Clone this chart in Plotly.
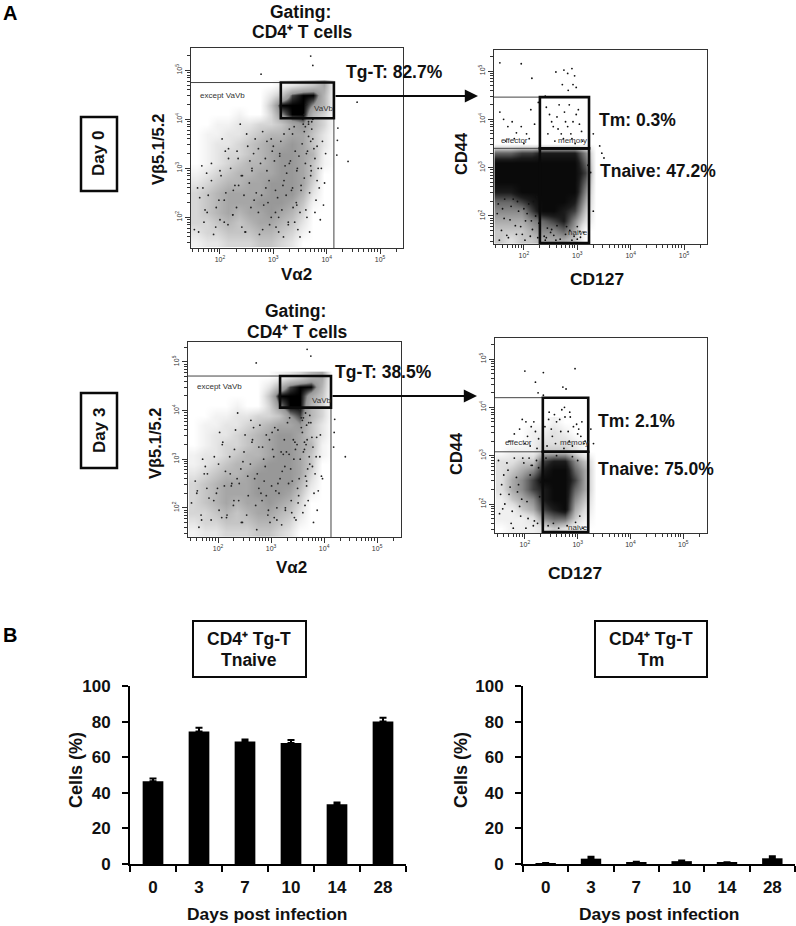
import numpy as np
import plotly.graph_objects as go

W, H = 796, 926
FONT = "Liberation Sans"

# Bar data
days = ["0", "3", "7", "10", "14", "28"]
tnaive = [46.5, 74.5, 68.8, 68.0, 33.5, 80.0]
tnaive_err = [1.5, 2.0, 1.2, 1.7, 1.0, 2.2]
tm = [0.4, 3.0, 1.0, 1.6, 0.8, 3.2]
tm_err = [0.2, 1.1, 0.3, 0.4, 0.2, 1.1]

# Flow density, one digit per cell (0 empty, 9 solid)
left_x = [1.55, 1.75, 1.95, 2.15, 2.35, 2.55, 2.75, 2.95, 3.15, 3.35, 3.55, 3.75, 3.95, 4.15]
left_y = [4.7, 4.5, 4.3, 4.1, 3.9, 3.7, 3.5, 3.3, 3.1, 2.9, 2.7, 2.5, 2.3, 2.1, 1.9, 1.7, 1.5]
day0_left = ["00000000123460", "00000002489950", "00000004999750", "00001003799530",
             "00112233467530", "01122345566420", "01223456676420", "01233456776510",
             "01234556776410", "12345566776400", "23455667776300", "34566667775200",
             "34566677764100", "34565667653000", "33454566542000", "23344455431000",
             "12233344320000"]
day3_left = ["00000000123560", "00000002589950", "00000004999640", "00001003799530",
             "00112233478530", "01122345667420", "01223456776420", "01233456776510",
             "12234556776410", "12345567776400", "23455677776300", "34566677775200",
             "34566677764100", "34565667653000", "33454566542000", "23344455431000",
             "12233344320000"]

right_x = [1.55, 1.75, 1.95, 2.15, 2.35, 2.55, 2.75, 2.95, 3.15, 3.35]
day0_right_y = [3.5, 3.3, 3.1, 2.9, 2.7, 2.5, 2.3, 2.1, 1.9, 1.7, 1.5]
day0_right = ["0000000000", "6677888850", "9999999960", "9999999970", "9999999960",
              "8899999950", "6678999840", "5557998730", "4445678520", "3334556400",
              "3233444300"]
day3_right_y = [3.7, 3.5, 3.3, 3.1, 2.9, 2.7, 2.5, 2.3, 2.1, 1.9, 1.7, 1.5]
day3_right = ["0000010000", "0001121000", "0001222100", "0111333200", "2233788530",
              "2345899640", "2457999740", "2457899640", "1345899530", "1134789420",
              "1112566310", "0111232100"]

# Separate dots (log10 units)
day0_left_dx = [3.7, 3.74, 2.77, 4.57, 4.21, 4.2, 4.19, 4.4, 1.62, 1.7, 1.84, 1.93, 2.04, 2.11, 2.2, 2.31, 2.38, 2.47,
                2.55, 2.63, 2.72, 2.8, 2.86, 2.93, 3.02, 3.08, 3.14, 3.19, 3.25, 3.3, 3.37, 3.41, 3.46, 3.52, 3.56, 3.6,
                3.63, 3.66, 3.7, 3.72, 3.76, 3.8, 3.84, 3.88, 3.92, 3.96, 2.1, 2.42, 2.66, 2.9, 3.05, 3.22, 3.34, 3.48,
                3.58, 3.68, 3.78, 3.55, 3.6, 3.66, 3.72, 2.0, 2.25, 2.52, 2.78, 2.98, 3.18, 3.4, 3.62, 3.82, 1.75, 2.15,
                2.6, 3.1, 3.44, 3.7, 3.3, 3.5, 2.85, 2.35,
                1.52, 1.58, 1.66, 1.72, 1.78, 1.88, 1.98, 2.02, 2.08, 2.16, 2.24, 2.28, 2.34, 2.41, 2.45, 2.5, 2.58, 2.6,
                2.68, 2.74, 2.76, 2.82, 2.88, 2.92, 2.96, 3.0, 3.04, 3.1, 3.12, 3.16, 3.2, 3.24, 3.28, 3.32, 3.36, 3.39,
                3.43, 3.45, 3.5, 3.54, 3.58, 3.61, 3.64, 3.68, 3.71, 3.74, 3.78, 3.82, 3.86, 3.9, 3.94, 3.98, 3.52, 3.44,
                3.36, 3.28, 3.2, 3.12, 3.04, 2.96, 2.88, 2.8, 2.72, 2.64, 2.56, 2.48, 2.4, 2.32, 2.24, 2.16, 2.08, 2.0,
                1.92, 1.84, 1.76, 1.68, 1.6, 3.58, 3.62, 3.7, 3.66, 3.74]
day0_left_dy = [5.29, 5.1, 4.92, 4.35, 3.82, 3.57, 3.27, 3.14, 2.4, 1.9, 2.75, 2.2, 3.6, 2.5, 3.0, 2.2, 3.9, 1.7,
                2.7, 3.3, 2.1, 3.75, 2.6, 1.85, 3.15, 2.4, 3.55, 1.6, 2.9, 3.8, 2.2, 3.35, 1.75, 2.65, 3.9, 3.1,
                2.0, 3.65, 2.85, 3.95, 3.4, 2.35, 3.0, 1.95, 3.55, 2.7, 3.35, 2.85, 3.6, 2.3, 1.8, 3.05, 2.55, 3.25,
                3.75, 2.5, 3.2, 4.0, 3.85, 3.95, 3.8, 1.95, 2.55, 3.45, 2.45, 3.35, 2.65, 1.9, 3.3, 2.75, 2.9, 1.85,
                2.95, 2.0, 2.95, 3.05, 3.1, 2.1, 3.2, 2.65,
                1.75, 2.6, 3.05, 2.15, 2.45, 1.65, 2.35, 2.85, 1.9, 3.4, 2.05, 2.65, 3.2, 1.8, 2.45, 3.7, 2.2, 3.0,
                2.5, 1.65, 3.1, 2.25, 3.55, 2.75, 2.0, 3.45, 2.55, 1.7, 3.3, 2.15, 3.7, 2.45, 1.85, 3.15, 2.6, 3.85,
                2.3, 3.0, 1.6, 3.5, 2.8, 2.15, 3.35, 1.7, 2.95, 3.6, 2.1, 3.45, 2.6, 3.0, 2.25, 3.3, 2.55, 2.25,
                3.7, 1.9, 2.75, 3.25, 2.1, 3.6, 2.95, 1.75, 3.4, 2.35, 3.15, 1.7, 2.85, 3.35, 2.05, 3.2, 2.35, 2.95,
                1.8, 3.1, 2.1, 2.6, 1.7, 4.1, 4.3, 3.55, 3.9, 4.0]
day3_left_dx = [3.68, 3.75, 2.72, 4.2, 4.19, 4.18, 4.4, 1.6, 1.68, 1.8, 1.92, 2.03, 2.12, 2.22, 2.3, 2.37, 2.46,
                2.56, 2.64, 2.71, 2.79, 2.87, 2.94, 3.03, 3.09, 3.13, 3.2, 3.26, 3.31, 3.38, 3.42, 3.47, 3.53, 3.57, 3.61,
                3.64, 3.67, 3.69, 3.73, 3.77, 3.81, 3.85, 3.87, 3.93, 3.95, 2.08, 2.43, 2.67, 2.91, 3.06, 3.23, 3.33, 3.49,
                3.59, 3.67, 3.79, 3.54, 3.61, 3.65, 3.71, 2.02, 2.26, 2.51, 2.77, 2.97, 3.17, 3.39, 3.63, 3.83, 1.76, 2.16,
                2.61, 3.11, 3.43, 3.72, 3.29, 3.51, 2.84, 2.36,
                1.5, 1.57, 1.64, 1.71, 1.79, 1.87, 1.97, 2.01, 2.09, 2.17, 2.23, 2.29, 2.33, 2.4, 2.44, 2.49, 2.57, 2.62,
                2.69, 2.73, 2.77, 2.83, 2.89, 2.91, 2.95, 3.01, 3.05, 3.07, 3.11, 3.15, 3.21, 3.25, 3.27, 3.34, 3.35, 3.4,
                3.44, 3.46, 3.5, 3.55, 3.59, 3.6, 3.65, 3.66, 3.7, 3.75, 3.78, 3.8, 3.86, 3.89, 3.92, 3.97, 3.52, 3.45,
                3.37, 3.27, 3.19, 3.13, 3.02, 2.98, 2.86, 2.81, 2.74, 2.65, 2.54, 2.47, 2.39, 2.31, 2.25, 2.14, 2.07, 1.99,
                1.93, 1.83, 1.74, 1.69, 1.61, 3.57, 3.63, 3.68, 3.67, 3.73]
day3_left_dy = [5.26, 5.12, 4.98, 3.82, 3.55, 3.25, 3.05, 2.3, 1.85, 2.7, 2.15, 3.55, 2.45, 3.05, 2.15, 3.95, 1.7,
                2.65, 3.35, 2.05, 3.7, 2.55, 1.85, 3.2, 2.35, 3.6, 1.65, 2.85, 3.75, 2.15, 3.4, 1.75, 2.6, 3.85, 3.15,
                2.05, 3.7, 2.8, 3.9, 3.45, 2.3, 3.05, 1.95, 3.5, 2.65, 3.3, 2.8, 3.65, 2.25, 1.8, 3.1, 2.5, 3.3,
                3.8, 2.45, 3.25, 4.02, 3.85, 3.95, 3.75, 1.95, 2.5, 3.5, 2.4, 3.4, 2.6, 1.9, 3.35, 2.7, 2.85, 1.8,
                2.9, 2.0, 3.0, 3.05, 3.15, 2.1, 3.25, 2.6,
                2.1, 2.55, 1.6, 3.0, 2.4, 1.75, 2.3, 2.9, 3.35, 1.85, 2.7, 2.05, 3.6, 2.5, 1.7, 3.15, 2.25, 3.8,
                2.6, 1.55, 3.25, 2.15, 2.85, 3.5, 1.95, 2.45, 3.05, 3.65, 1.75, 2.3, 2.75, 3.4, 2.0, 3.1, 3.85, 2.55,
                1.8, 3.2, 2.4, 3.0, 3.55, 1.9, 2.65, 3.3, 2.15, 3.75, 2.85, 1.7, 3.45, 2.35, 3.05, 2.6, 2.25, 3.35,
                2.8, 1.95, 3.15, 2.5, 3.55, 1.7, 3.0, 2.3, 2.7, 3.4, 1.85, 2.95, 2.15, 3.2, 2.45, 2.75, 1.8, 2.4,
                3.05, 2.2, 2.7, 1.75, 2.35, 3.65, 3.2, 3.4, 2.55, 2.9]
day0_right_dx = [1.55, 1.95, 2.15, 2.6, 2.75, 2.82, 2.9, 2.95, 2.72, 2.83, 2.92, 2.98, 2.4, 1.55, 1.62, 1.7, 1.78, 1.86,
                 1.95, 2.05, 2.1, 2.13, 2.2, 2.27, 2.0, 1.82, 1.66, 2.42, 2.48, 2.55, 2.62, 2.7, 2.78, 2.85, 2.9, 2.98, 3.04,
                 3.1, 2.45, 2.58, 2.66, 2.74, 2.82, 2.88, 2.96, 3.02, 3.08, 2.52, 2.64, 2.76, 2.92, 3.3, 3.42, 3.5, 3.25, 3.3,
                 3.2, 3.46,
                 1.5, 1.58, 1.63, 1.71, 1.76, 1.84, 1.9, 1.97, 2.03, 2.09, 2.16, 2.22, 2.28, 2.38, 2.44, 2.5, 2.56, 2.68, 2.86, 2.94,
                 3.0, 3.06, 3.12, 1.54, 1.64, 1.74, 1.88, 2.0, 2.12, 2.24, 2.4, 2.52, 2.62, 2.78, 2.9, 3.05, 1.6, 1.8, 1.94,
                 2.06, 2.18, 2.26, 1.52, 1.68, 1.86, 2.02, 2.14, 2.42, 2.6, 2.8, 3.0]
day0_right_dy = [5.17, 5.15, 4.85, 4.98, 5.02, 4.95, 5.05, 4.9, 4.72, 4.6, 4.72, 4.66, 4.48, 4.15, 4.0, 3.85, 3.95, 3.72,
                 3.85, 3.7, 3.6, 4.2, 3.9, 4.35, 3.5, 3.6, 3.55, 4.25, 4.1, 3.85, 4.05, 3.7, 3.95, 4.3, 3.6, 4.1, 3.9,
                 3.55, 3.7, 3.55, 4.3, 3.6, 3.85, 3.7, 3.5, 4.2, 3.75, 3.95, 3.8, 4.15, 3.95, 3.7, 3.45, 3.2, 2.9, 2.1,
                 3.05, 3.3,
                 2.05, 1.7, 1.95, 1.55, 2.2, 1.8, 2.1, 1.62, 1.9, 2.25, 1.72, 2.0, 1.85, 1.58, 1.75, 1.66, 1.6, 1.52, 1.7, 1.58,
                 1.78, 1.56, 1.66, 1.5, 2.35, 1.92, 2.3, 2.15, 1.58, 2.4, 1.5, 1.72, 1.8, 1.62, 1.5, 1.68, 2.15, 2.35, 1.78,
                 2.05, 2.3, 1.55, 2.25, 1.6, 1.62, 1.5, 1.9, 1.55, 1.5, 1.78, 1.52]
day3_right_dx = [2.0, 2.35, 2.2, 2.95, 2.25, 2.72, 2.78, 2.35, 2.75, 2.85, 1.95, 2.02, 1.7, 1.8, 1.9, 2.05, 2.12, 2.2, 2.26,
                 2.1, 2.17, 2.23, 2.0, 2.38, 2.45, 2.52, 2.6, 2.68, 2.76, 2.84, 2.92, 3.0, 3.08, 3.14, 2.42, 2.5, 2.58, 2.66,
                 2.74, 2.82, 2.9, 2.98, 3.06, 3.12, 2.46, 2.56, 2.7, 2.86, 3.02, 3.25, 3.3,
                 1.5, 1.56, 1.62, 1.68, 1.74, 1.8, 1.86, 1.92, 1.98, 2.04, 2.1, 2.16, 2.22, 2.28, 1.52, 1.6, 1.7, 1.78, 1.88,
                 1.96, 2.06, 2.14, 2.24, 2.3, 1.54, 1.66, 1.76, 1.84, 1.94, 2.08, 2.18, 2.26, 2.44, 2.54, 2.64, 2.8, 2.96,
                 3.04, 3.1, 2.4, 2.6, 2.9, 3.0, 1.58, 1.72, 1.9, 2.02, 2.12]
day3_right_dy = [4.75, 4.72, 4.52, 4.8, 4.3, 4.42, 4.38, 4.25, 4.0, 3.9, 3.75, 3.7, 3.3, 3.45, 3.55, 3.4, 3.6, 3.5, 3.35,
                 3.2, 3.7, 3.15, 3.25, 3.6, 3.75, 3.4, 3.7, 3.5, 3.8, 3.3, 3.6, 3.45, 3.7, 3.3, 3.2, 3.55, 3.25, 3.75,
                 3.15, 3.5, 3.2, 3.65, 3.4, 3.25, 3.9, 3.85, 3.95, 3.8, 3.55, 3.55, 3.25,
                 2.9, 2.4, 2.0, 2.7, 1.6, 2.95, 2.25, 1.75, 2.85, 2.05, 2.6, 1.55, 2.9, 2.15, 1.8, 2.6, 2.2, 1.5, 2.4,
                 2.95, 1.7, 2.8, 1.6, 2.45, 2.2, 2.85, 1.85, 2.55, 2.1, 2.95, 1.65, 2.75, 1.55, 1.6, 1.5, 1.55, 1.62,
                 1.75, 1.5, 2.95, 3.0, 2.98, 2.9, 1.9, 2.35, 1.95, 1.5, 2.8]

# Gates in log10 units: (x0, x1, y0, y1)
day0_tg_gate = (3.14, 4.135, 4.02, 4.75)
day3_tg_gate = (3.17, 4.13, 4.06, 4.71)
day0_mem_gate = (2.3, 3.22, 3.4, 4.46)
day0_naive_gate = (2.3, 3.22, 1.44, 3.4)
day3_mem_gate = (2.34, 3.2, 3.08, 4.2)
day3_naive_gate = (2.34, 3.2, 1.42, 3.08)

GREY_SCALE = [[0, "#ffffff"], [0.22, "#e6e6e6"], [0.44, "#c6c6c6"], [0.67, "#a6a6a6"], [0.78, "#989898"], [0.89, "#444444"], [1, "#000000"]]
DARK_SCALE = [[0, "#ffffff"], [0.25, "#dddddd"], [0.45, "#aaaaaa"], [0.67, "#666666"], [0.88, "#1c1c1c"], [1, "#0a0a0a"]]

fig = go.Figure()


def grid(rows):
    return [[int(c) for c in row] for row in rows]


def px_x(v):
    return v / W


def px_y(v):
    return 1 - v / H


def decade_minor():
    vals = []
    for d in range(1, 6):
        for m in range(2, 10):
            vals.append(d + float(np.log10(m)))
    return vals


def flow_axes(n, box, xrange, yrange):
    left, right, top, bottom = box
    tickvals = [2, 3, 4, 5]
    ticktext = ["10<sup>%d</sup>" % t for t in tickvals]
    common = dict(
        showgrid=False, zeroline=False, showline=True, linecolor="#333333", linewidth=1, mirror=True, automargin=False,
        tickmode="array", tickvals=tickvals, ticktext=ticktext, ticks="outside", ticklen=5, tickwidth=1,
        tickcolor="#333333", tickfont=dict(family=FONT, size=7, color="#333333"),
        minor=dict(ticks="outside", tickmode="array", tickvals=decade_minor(), ticklen=3, tickwidth=1, tickcolor="#333333"),
    )
    fig.layout["xaxis%d" % n] = dict(domain=[px_x(left), px_x(right)], range=xrange, anchor="y%d" % n, **common)
    fig.layout["yaxis%d" % n] = dict(domain=[px_y(bottom), px_y(top)], range=yrange, anchor="x%d" % n, tickangle=-90, **common)


def flow_panel(n, x, y, rows, dx, dy, scale, dot="#222222"):
    fig.add_trace(go.Heatmap(x=x, y=y, z=grid(rows), zmin=0, zmax=9, colorscale=scale, showscale=False,
                             zsmooth="best", hoverinfo="skip", xaxis="x%d" % n, yaxis="y%d" % n))
    fig.add_trace(go.Scatter(x=dx, y=dy, mode="markers", marker=dict(size=1.8, color=dot),
                             hoverinfo="skip", showlegend=False, xaxis="x%d" % n, yaxis="y%d" % n))


def gate(n, g, width=2.6):
    fig.add_shape(type="rect", xref="x%d" % n, yref="y%d" % n, x0=g[0], x1=g[1], y0=g[2], y1=g[3],
                  line=dict(color="#0a0a0a", width=width))


def thin(n, x0, x1, y0, y1):
    fig.add_shape(type="line", xref="x%d" % n, yref="y%d" % n, x0=x0, x1=x1, y0=y0, y1=y1,
                  line=dict(color="#444444", width=1))


def text(x, y, s, size=17.5, anchor="center", angle=0, bold=True, color="#111111"):
    fig.add_annotation(xref="paper", yref="paper", x=px_x(x), y=px_y(y), text="<b>%s</b>" % s if bold else s,
                       showarrow=False, xanchor=anchor, yanchor="middle", textangle=angle,
                       font=dict(family=FONT, size=size, color=color))


def box(x0, x1, y0, y1, width=2):
    fig.add_shape(type="rect", xref="paper", yref="paper", x0=px_x(x0), x1=px_x(x1), y0=px_y(y1), y1=px_y(y0),
                  line=dict(color="#0a0a0a", width=width))


def arrow(x0, x1, y):
    fig.add_annotation(xref="paper", yref="paper", x=px_x(x1), y=px_y(y), axref="pixel", ayref="pixel",
                       ax=x0 - x1, ay=0, text="", showarrow=True, arrowhead=2, arrowsize=1.2,
                       arrowwidth=2.2, arrowcolor="#0a0a0a")


def bar_panel(n, left, right, values, errors):
    fig.add_trace(go.Bar(x=days, y=values, width=0.45, marker=dict(color="#000000", line=dict(width=0)),
                         error_y=dict(type="data", symmetric=False, array=errors, arrayminus=[0] * 6,
                                      color="#000000", thickness=2, width=3.5),
                         hoverinfo="skip", showlegend=False, xaxis="x%d" % n, yaxis="y%d" % n))
    axis = dict(showgrid=False, zeroline=False, showline=True, linecolor="#000000", linewidth=2, ticks="outside",
                ticklen=6, tickwidth=2, tickcolor="#000000", automargin=False,
                tickfont=dict(family=FONT, size=17, color="#111111", weight="bold"))
    fig.layout["xaxis%d" % n] = dict(domain=[px_x(left), px_x(right)], anchor="y%d" % n, type="category",
                                     categoryorder="array", categoryarray=days, range=[-0.5, 5.5],
                                     tickson="boundaries", ticklabelstandoff=7, **axis)
    fig.layout["yaxis%d" % n] = dict(domain=[px_y(864), px_y(686)], anchor="x%d" % n, range=[0, 100],
                                     tickmode="array", tickvals=[0, 20, 40, 60, 80, 100], ticklabelstandoff=8, **axis)


# Part A
flow_panel(1, left_x, left_y, day0_left, day0_left_dx, day0_left_dy, GREY_SCALE)
flow_panel(2, right_x, day0_right_y, day0_right, day0_right_dx, day0_right_dy, DARK_SCALE, "#111111")
flow_panel(3, left_x, left_y, day3_left, day3_left_dx, day3_left_dy, GREY_SCALE)
flow_panel(4, right_x, day3_right_y, day3_right, day3_right_dx, day3_right_dy, DARK_SCALE, "#111111")

flow_axes(1, (191, 403, 48, 248), [1.457, 5.43], [1.373, 5.455])
flow_axes(2, (494, 707, 50, 244), [1.44, 5.43], [1.42, 5.435])
flow_axes(3, (188, 401, 342, 537), [1.434, 5.45], [1.40, 5.41])
flow_axes(4, (495, 707, 338, 533), [1.434, 5.45], [1.40, 5.435])

thin(1, 1.457, day0_tg_gate[0], 4.75, 4.75)
thin(1, 4.135, 4.135, 1.373, 4.75)
thin(2, 1.44, 2.3, 4.46, 4.46)
thin(2, 1.44, 2.3, 3.4, 3.4)
thin(3, 1.434, day3_tg_gate[0], 4.71, 4.71)
thin(3, 4.13, 4.13, 1.40, 4.71)
thin(4, 1.434, 2.34, 4.2, 4.2)
thin(4, 1.434, 2.34, 3.08, 3.08)

gate(1, day0_tg_gate)
gate(2, day0_mem_gate)
gate(2, day0_naive_gate)
gate(3, day3_tg_gate)
gate(4, day3_mem_gate)
gate(4, day3_naive_gate)

arrow(334, 478, 96)
arrow(331, 477, 396)

box(81, 117, 117, 191, 2.5)
box(81, 117, 393, 468, 2.5)
text(99, 154, "Day 0", 17, angle=-90)
text(99, 431, "Day 3", 17, angle=-90)

text(10, 13, "A", 20, color="#000000")
text(10, 635, "B", 20, color="#000000")

text(300, 11.5, "Gating:")
text(302, 32, "CD4⁺ T cells")
text(295, 311, "Gating:")
text(297, 331.5, "CD4⁺ T cells")

text(344, 72, "Tg-T: 82.7%", anchor="left")
text(333, 372, "Tg-T: 38.5%", anchor="left")
text(597, 120, "Tm: 0.3%", anchor="left")
text(598, 171, "Tnaive: 47.2%", anchor="left")
text(596, 421, "Tm: 2.1%", anchor="left")
text(596, 469, "Tnaive: 75.0%", anchor="left")

text(158, 149, "Vβ5.1/5.2", 16.5, angle=-90)
text(155, 443, "Vβ5.1/5.2", 16.5, angle=-90)
text(296, 274, "Vα2", 17)
text(291, 567, "Vα2", 17)
text(461, 154, "CD44", 16.5, angle=-90)
text(456, 454, "CD44", 16.5, angle=-90)
text(597, 279, "CD127", 17.4)
text(575, 573, "CD127", 17.4)

text(222, 95, "except VaVb", 8, bold=False, color="#333333")
text(324, 109, "VaVb", 8, bold=False, color="#333333")
text(219, 387, "except VaVb", 8, bold=False, color="#333333")
text(322, 400, "VaVb", 8, bold=False, color="#333333")
text(514, 140, "effector", 8, bold=False, color="#333333")
text(572, 140, "memory", 8, bold=False, color="#333333")
text(578, 233, "naive", 8, bold=False, color="#333333")
text(518, 442, "effector", 8, bold=False, color="#333333")
text(574, 442, "memory", 8, bold=False, color="#333333")
text(578, 527, "naive", 8, bold=False, color="#333333")

# Part B
bar_panel(5, 130, 406, tnaive, tnaive_err)
bar_panel(6, 523, 795, tm, tm_err)

box(193, 306, 621, 677)
box(595, 707, 621, 677)
text(249, 639, "CD4⁺ Tg-T")
text(249, 660, "Tnaive")
text(651, 639, "CD4⁺ Tg-T")
text(651, 660, "Tm")
text(76, 770, "Cells (%)", 18, angle=-90)
text(461, 770, "Cells (%)", 18, angle=-90)
text(267, 914, "Days post infection", 17.4)
text(659, 914, "Days post infection", 17.4)

fig.update_layout(
    width=W, height=H, autosize=False, margin=dict(l=0, r=0, t=0, b=0),
    paper_bgcolor="white", plot_bgcolor="white", showlegend=False, bargap=0.55,
    font=dict(family=FONT),
)

fig.write_html("out.html", config=dict(displayModeBar=False),
               post_script="document.body.style.margin='0';document.documentElement.style.overflow='hidden';")
